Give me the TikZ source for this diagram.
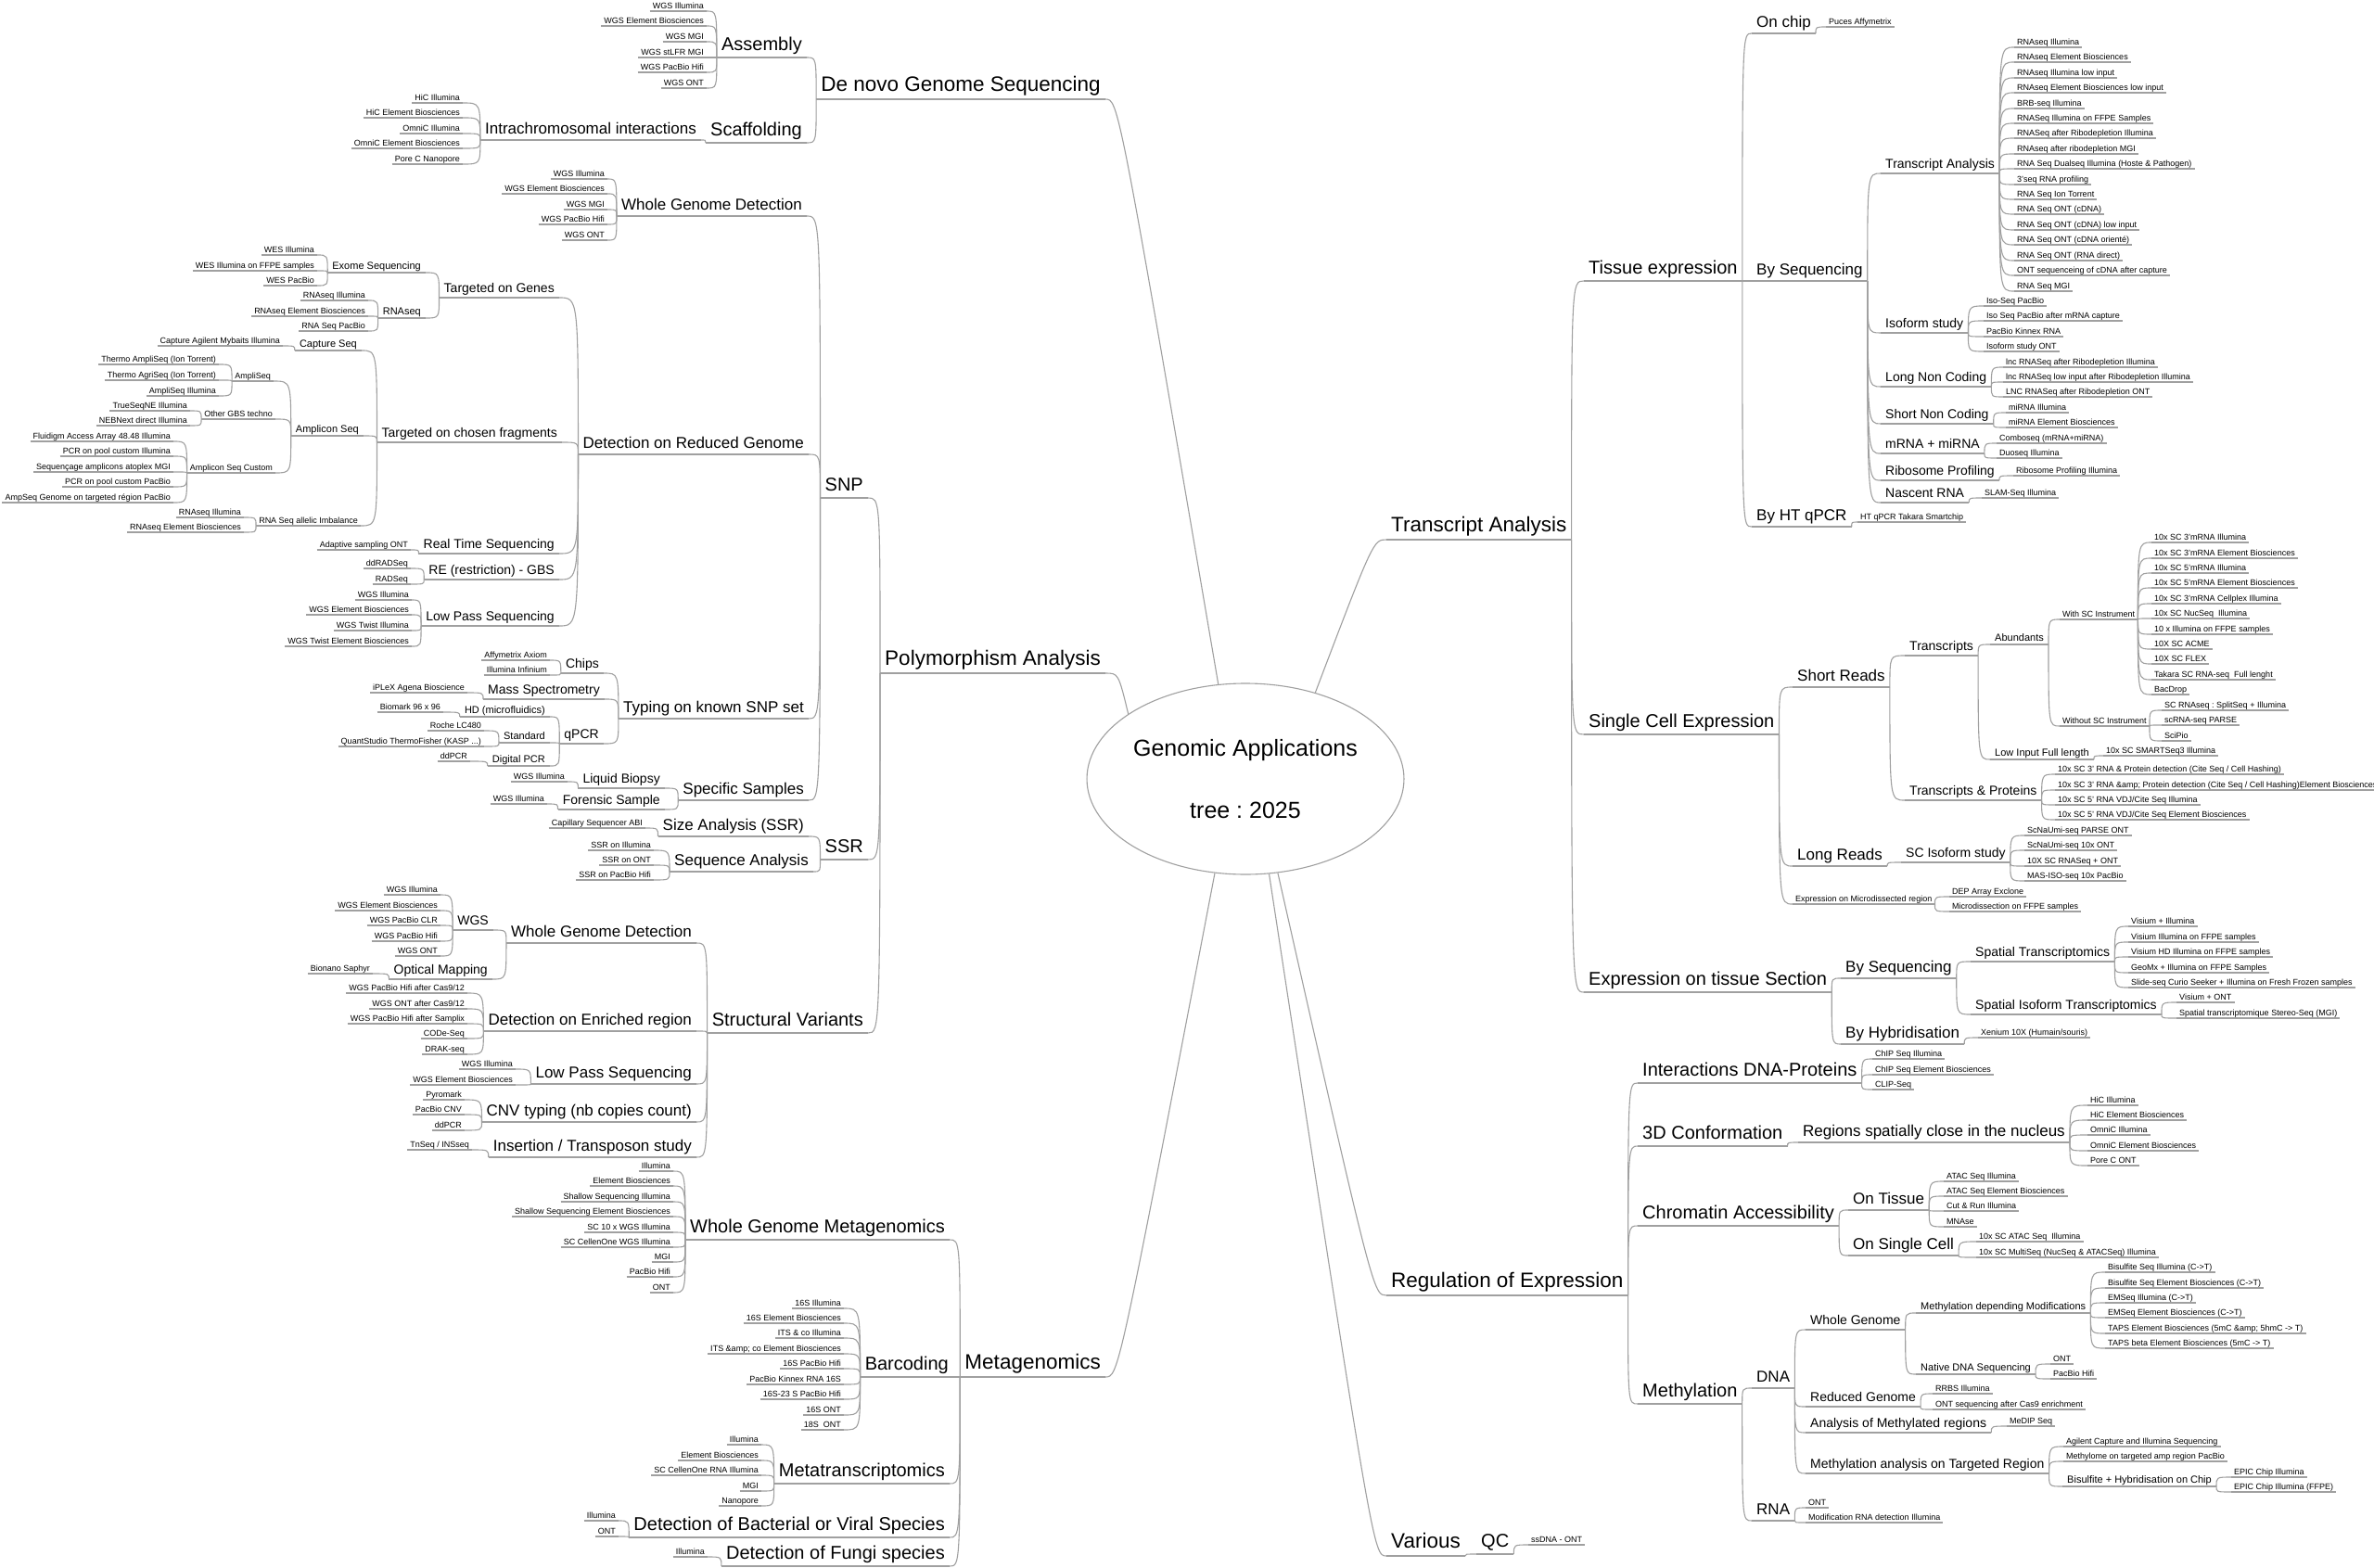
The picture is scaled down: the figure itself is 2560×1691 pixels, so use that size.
\documentclass[tikz,border=0pt]{standalone}
\usepackage{fontspec}
\setmainfont{Liberation Sans}
\usetikzlibrary{shapes.geometric,calc}
\frenchspacing
\definecolor{lc}{RGB}{160,160,160}
\newcounter{nc}
\tikzset{
 ln/.style={draw=lc, line width=1.1pt},
 nbase/.style={inner xsep=5pt, inner ysep=0pt, text=black},
 b1/.style={nbase, font=\fontsize{22.5}{27}\selectfont, text height=17pt, text depth=8pt},
 b2/.style={nbase, font=\fontsize{20}{24}\selectfont, text height=15pt, text depth=7pt},
 b3/.style={nbase, font=\fontsize{17}{20}\selectfont, text height=13pt, text depth=6pt},
 b4/.style={nbase, font=\fontsize{14}{17}\selectfont, text height=11pt, text depth=5pt},
 b5/.style={nbase, font=\fontsize{11}{13}\selectfont, text height=8.5pt, text depth=3.5pt},
 lf/.style={nbase, inner xsep=3pt, font=\fontsize{9}{11}\selectfont, text height=7pt, text depth=2.5pt},
 centre/.style={ellipse, draw=lc, line width=1.1pt, minimum width=278pt, minimum height=206pt, inner sep=0pt, align=center, font=\fontsize{25}{30}\selectfont},
}
\newcommand\Lb[6]{%
  \node[#3, anchor=south east] (#1) at (#4,#5) {#6};
  \draw[ln] (#1.south west) -- (#1.south east);
  \draw[ln] (#2.south west) .. controls (#2.south west |- #1.south east) .. (#1.south east);
}
\newcommand\Rb[6]{%
  \node[#3, anchor=south west] (#1) at (#4,#5) {#6};
  \draw[ln] (#1.south west) -- (#1.south east);
  \draw[ln] (#2.south east) .. controls (#2.south east |- #1.south west) .. (#1.south west);
}
\newcommand\Lf[4]{\stepcounter{nc}\edef\nn{n\arabic{nc}}\Lb{\nn}{#1}{lf}{#2}{#3}{#4}}
\newcommand\Rf[4]{\stepcounter{nc}\edef\nn{n\arabic{nc}}\Rb{\nn}{#1}{lf}{#2}{#3}{#4}}
\newcommand\Tl[5]{%
  \node[b1, anchor=south east] (#1) at (#3,#4) {#5};
  \draw[ln] (#1.south west) -- (#1.south east);
  \draw[ln] (c.#2) .. controls ($(#1.south east)+(14,0)$) .. (#1.south east);
}
\newcommand\Tr[5]{%
  \node[b1, anchor=south west] (#1) at (#3,#4) {#5};
  \draw[ln] (#1.south west) -- (#1.south east);
  \draw[ln] (c.#2) .. controls ($(#1.south west)+(-14,0)$) .. (#1.south west);
}
\begin{document}
\begin{tikzpicture}[x=1pt,y=-1pt]
\path[fill=white] (0,0) rectangle (2560,1691);
\useasboundingbox (0,0) rectangle (2560,1691);
\node[centre] (c) at (1343,840) {Genomic Applications\\[37pt]tree : 2025};

% ---------------- De novo
\Tl{dn}{106}{1192}{107}{De novo Genome Sequencing}
\Lb{as}{dn}{b2}{870}{62}{Assembly}
\Lf{as}{762}{12}{WGS Illumina}
\Lf{as}{762}{28}{WGS Element Biosciences}
\Lf{as}{762}{45}{WGS MGI}
\Lf{as}{762}{62}{WGS stLFR MGI}
\Lf{as}{762}{78}{WGS PacBio Hifi}
\Lf{as}{762}{95}{WGS ONT}
\Lb{sc}{dn}{b2}{870}{154}{Scaffolding}
\Lb{ic}{sc}{b3}{756}{151}{Intrachromosomal interactions}
\Lf{ic}{499}{111}{HiC Illumina}
\Lf{ic}{499}{127}{HiC Element Biosciences}
\Lf{ic}{499}{144}{OmniC Illumina}
\Lf{ic}{499}{160}{OmniC Element Biosciences}
\Lf{ic}{499}{177}{Pore C Nanopore}

% ---------------- Polymorphism
\Tl{pa}{151}{1192}{726}{Polymorphism Analysis}
\Lb{snp}{pa}{b2}{936}{537}{SNP}
\Lb{wgd}{snp}{b3}{870}{233}{Whole Genome Detection}
\Lf{wgd}{655}{193}{WGS Illumina}
\Lf{wgd}{655}{209}{WGS Element Biosciences}
\Lf{wgd}{655}{226}{WGS MGI}
\Lf{wgd}{655}{242}{WGS PacBio Hifi}
\Lf{wgd}{655}{259}{WGS ONT}
\Lb{drg}{snp}{b3}{872}{490}{Detection on Reduced Genome}
\Lb{tog}{drg}{b4}{603}{321}{Targeted on Genes}
\Lb{exo}{tog}{b5}{459}{294}{Exome Sequencing}
\Lf{exo}{342}{275}{WES Illumina}
\Lf{exo}{342}{292}{WES Illumina on FFPE samples}
\Lf{exo}{342}{308}{WES PacBio}
\Lb{rnas}{tog}{b5}{459}{343}{RNAseq}
\Lf{rnas}{397}{324}{RNAseq Illumina}
\Lf{rnas}{397}{341}{RNAseq Element Biosciences}
\Lf{rnas}{397}{357}{RNA Seq PacBio}
\Lb{tcf}{drg}{b4}{606}{477}{Targeted on chosen fragments}
\Lb{cap}{tcf}{b5}{390}{378}{Capture Seq}
\Lf{cap}{305}{373}{Capture Agilent Mybaits Illumina}
\Lb{amp}{tcf}{b5}{392}{470}{Amplicon Seq}
\Lb{ampl}{amp}{lf}{295}{411}{AmpliSeq}
\Lf{ampl}{236}{393}{Thermo AmpliSeq (Ion Torrent)}
\Lf{ampl}{236}{410}{Thermo AgriSeq (Ion Torrent)}
\Lf{ampl}{236}{427}{AmpliSeq Illumina}
\Lb{ogbs}{amp}{lf}{297}{452}{Other GBS techno}
\Lf{ogbs}{205}{443}{TrueSeqNE Illumina}
\Lf{ogbs}{205}{459}{NEBNext direct Illumina}
\Lb{ampc}{amp}{lf}{297}{510}{Amplicon Seq Custom}
\Lf{ampc}{187}{476}{Fluidigm Access Array 48.48 Illumina}
\Lf{ampc}{187}{492}{PCR on pool custom Illumina}
\Lf{ampc}{187}{509}{Sequençage amplicons atoplex MGI}
\Lf{ampc}{187}{525}{PCR on pool custom PacBio}
\Lf{ampc}{187}{542}{AmpSeq Genome on targeted région PacBio}
\Lb{rsai}{tcf}{lf}{389}{567}{RNA Seq allelic Imbalance}
\Lf{rsai}{263}{558}{RNAseq Illumina}
\Lf{rsai}{263}{574}{RNAseq Element Biosciences}
\Lb{rts}{drg}{b4}{603}{597}{Real Time Sequencing}
\Lf{rts}{443}{593}{Adaptive sampling ONT}
\Lb{reg}{drg}{b4}{603}{625}{RE (restriction) - GBS}
\Lf{reg}{443}{613}{ddRADSeq}
\Lf{reg}{443}{630}{RADSeq}
\Lb{lps}{drg}{b4}{603}{675}{Low Pass Sequencing}
\Lf{lps}{444}{647}{WGS Illumina}
\Lf{lps}{444}{663}{WGS Element Biosciences}
\Lf{lps}{444}{680}{WGS Twist Illumina}
\Lf{lps}{444}{697}{WGS Twist Element Biosciences}
\Lb{tks}{snp}{b3}{872}{775}{Typing on known SNP set}
\Lb{chp}{tks}{b4}{651}{726}{Chips}
\Lf{chp}{593}{712}{Affymetrix Axiom}
\Lf{chp}{593}{728}{Illumina Infinium}
\Lb{ms}{tks}{b4}{652}{754}{Mass Spectrometry}
\Lf{ms}{504}{747}{iPLeX Agena Bioscience}
\Lb{qpcr}{tks}{b4}{651}{802}{qPCR}
\Lb{hd}{qpcr}{b5}{593}{773}{HD (microfluidics)}
\Lf{hd}{478}{768}{Biomark 96 x 96}
\Lb{std}{qpcr}{b5}{593}{801}{Standard}
\Lf{std}{522}{788}{Roche LC480}
\Lf{std}{522}{805}{QuantStudio ThermoFisher (KASP ...)}
\Lb{dpcr}{qpcr}{b5}{593}{826}{Digital PCR}
\Lf{dpcr}{507}{821}{ddPCR}
\Lb{ss}{snp}{b3}{872}{863}{Specific Samples}
\Lb{lb}{ss}{b4}{717}{850}{Liquid Biopsy}
\Lf{lb}{612}{843}{WGS Illumina}
\Lb{fs}{ss}{b4}{717}{873}{Forensic Sample}
\Lf{fs}{590}{867}{WGS Illumina}
\Lb{ssr}{pa}{b2}{936}{927}{SSR}
\Lb{sa}{ssr}{b3}{872}{902}{Size Analysis (SSR)}
\Lf{sa}{696}{893}{Capillary Sequencer ABI}
\Lb{seqa}{ssr}{b3}{877}{940}{Sequence Analysis}
\Lf{seqa}{705}{917}{SSR on Illumina}
\Lf{seqa}{705}{933}{SSR on ONT}
\Lf{seqa}{705}{949}{SSR on PacBio Hifi}
\Lb{sv}{pa}{b2}{936}{1114}{Structural Variants}
\Lb{wgd2}{sv}{b3}{751}{1017}{Whole Genome Detection}
\Lb{wgs}{wgd2}{b4}{532}{1003}{WGS}
\Lf{wgs}{475}{965}{WGS Illumina}
\Lf{wgs}{475}{982}{WGS Element Biosciences}
\Lf{wgs}{475}{998}{WGS PacBio CLR}
\Lf{wgs}{475}{1015}{WGS PacBio Hifi}
\Lf{wgs}{475}{1031}{WGS ONT}
\Lb{om}{wgd2}{b4}{531}{1056}{Optical Mapping}
\Lf{om}{402}{1050}{Bionano Saphyr}
\Lb{der}{sv}{b3}{751}{1112}{Detection on Enriched region}
\Lf{der}{504}{1071}{WGS PacBio Hifi after Cas9/12}
\Lf{der}{504}{1088}{WGS ONT after Cas9/12}
\Lf{der}{504}{1104}{WGS PacBio Hifi after Samplix}
\Lf{der}{504}{1120}{CODe-Seq}
\Lf{der}{504}{1137}{DRAK-seq}
\Lb{lps2}{sv}{b3}{751}{1169}{Low Pass Sequencing}
\Lf{lps2}{556}{1153}{WGS Illumina}
\Lf{lps2}{556}{1170}{WGS Element Biosciences}
\Lb{cnv}{sv}{b3}{751}{1210}{CNV typing (nb copies count)}
\Lf{cnv}{501}{1186}{Pyromark}
\Lf{cnv}{501}{1202}{PacBio CNV}
\Lf{cnv}{501}{1219}{ddPCR}
\Lb{ins}{sv}{b3}{751}{1248}{Insertion / Transposon study}
\Lf{ins}{509}{1240}{TnSeq / INSseq}

% ---------------- Metagenomics
\Tl{mg}{252}{1192}{1485}{Metagenomics}
\Lb{wgm}{mg}{b2}{1024}{1337}{Whole Genome Metagenomics}
\Lf{wgm}{726}{1263}{Illumina}
\Lf{wgm}{726}{1279}{Element Biosciences}
\Lf{wgm}{726}{1296}{Shallow Sequencing Illumina}
\Lf{wgm}{726}{1312}{Shallow Sequencing Element Biosciences}
\Lf{wgm}{726}{1329}{SC 10 x WGS Illumina}
\Lf{wgm}{726}{1345}{SC CellenOne WGS Illumina}
\Lf{wgm}{726}{1361}{MGI}
\Lf{wgm}{726}{1377}{PacBio Hifi}
\Lf{wgm}{726}{1394}{ONT}
\Lb{bc}{mg}{b2}{1028}{1485}{Barcoding}
\Lf{bc}{910}{1411}{16S Illumina}
\Lf{bc}{910}{1427}{16S Element Biosciences}
\Lf{bc}{910}{1443}{ITS \& co Illumina}
\Lf{bc}{910}{1460}{ITS \&amp; co Element Biosciences}
\Lf{bc}{910}{1476}{16S PacBio Hifi}
\Lf{bc}{910}{1493}{PacBio Kinnex RNA 16S}
\Lf{bc}{910}{1509}{16S-23 S PacBio Hifi}
\Lf{bc}{910}{1526}{16S ONT}
\Lf{bc}{910}{1542}{18S\ \ ONT}
\Lb{mt}{mg}{b2}{1024}{1600}{Metatranscriptomics}
\Lf{mt}{821}{1558}{Illumina}
\Lf{mt}{821}{1575}{Element Biosciences}
\Lf{mt}{821}{1591}{SC CellenOne RNA Illumina}
\Lf{mt}{821}{1608}{MGI}
\Lf{mt}{821}{1624}{Nanopore}
\Lb{dbv}{mg}{b2}{1024}{1658}{Detection of Bacterial or Viral Species}
\Lf{dbv}{667}{1640}{Illumina}
\Lf{dbv}{667}{1657}{ONT}
\Lb{dfs}{mg}{b2}{1024}{1689}{Detection of Fungi species}
\Lf{dfs}{763}{1679}{Illumina}

% ---------------- Transcript Analysis
\Tr{ta}{51}{1495}{582}{Transcript Analysis}
\Rb{te}{ta}{b2}{1708}{303}{Tissue expression}
\Rb{oc}{te}{b3}{1889}{36}{On chip}
\Rf{oc}{1969}{29}{Puces Affymetrix}
\Rb{bs}{te}{b3}{1889}{303}{By Sequencing}
\Rb{ta2}{bs}{b4}{2028}{187}{Transcript Analysis}
\Rf{ta2}{2172}{51}{RNAseq Illumina}
\Rf{ta2}{2172}{67}{RNAseq Element Biosciences}
\Rf{ta2}{2172}{84}{RNAseq Illumina low input}
\Rf{ta2}{2172}{100}{RNAseq Element Biosciences low input}
\Rf{ta2}{2172}{117}{BRB-seq Illumina}
\Rf{ta2}{2172}{133}{RNASeq Illumina on FFPE Samples}
\Rf{ta2}{2172}{149}{RNASeq after Ribodepletion Illumina}
\Rf{ta2}{2172}{166}{RNAseq after ribodepletion MGI}
\Rf{ta2}{2172}{182}{RNA Seq Dualseq Illumina (Hoste \& Pathogen)}
\Rf{ta2}{2172}{199}{3'seq RNA profiling}
\Rf{ta2}{2172}{215}{RNA Seq Ion Torrent}
\Rf{ta2}{2172}{231}{RNA Seq ONT (cDNA)}
\Rf{ta2}{2172}{248}{RNA Seq ONT (cDNA) low input}
\Rf{ta2}{2172}{264}{RNA Seq ONT (cDNA orienté)}
\Rf{ta2}{2172}{281}{RNA Seq ONT (RNA direct)}
\Rf{ta2}{2172}{297}{ONT sequenceing of cDNA after capture}
\Rf{ta2}{2172}{314}{RNA Seq MGI}
\Rb{iso}{bs}{b4}{2028}{359}{Isoform study}
\Rf{iso}{2139}{330}{Iso-Seq PacBio}
\Rf{iso}{2139}{346}{Iso Seq PacBio after mRNA capture}
\Rf{iso}{2139}{363}{PacBio Kinnex RNA}
\Rf{iso}{2139}{379}{Isoform study ONT}
\Rb{lnc}{bs}{b4}{2028}{417}{Long Non Coding}
\Rf{lnc}{2160}{396}{lnc RNASeq after Ribodepletion Illumina}
\Rf{lnc}{2160}{412}{lnc RNASeq low input after Ribodepletion Illumina}
\Rf{lnc}{2160}{428}{LNC RNASeq after Ribodepletion ONT}
\Rb{snc}{bs}{b4}{2028}{457}{Short Non Coding}
\Rf{snc}{2163}{445}{miRNA Illumina}
\Rf{snc}{2163}{461}{miRNA Element Biosciences}
\Rb{mm}{bs}{b4}{2028}{489}{mRNA + miRNA}
\Rf{mm}{2153}{478}{Comboseq (mRNA+miRNA)}
\Rf{mm}{2153}{494}{Duoseq Illumina}
\Rb{rp}{bs}{b4}{2028}{518}{Ribosome Profiling}
\Rf{rp}{2171}{513}{Ribosome Profiling Illumina}
\Rb{nr}{bs}{b4}{2028}{542}{Nascent RNA}
\Rf{nr}{2137}{537}{SLAM-Seq Illumina}
\Rb{htq}{te}{b3}{1889}{568}{By HT qPCR}
\Rf{htq}{2003}{563}{HT qPCR Takara Smartchip}

\Rb{sce}{ta}{b2}{1708}{792}{Single Cell Expression}
\Rb{sr}{sce}{b3}{1933}{741}{Short Reads}
\Rb{tr}{sr}{b4}{2054}{707}{Transcripts}
\Rb{ab}{tr}{b5}{2146}{695}{Abundants}
\Rb{wsc}{ab}{lf}{2221}{668}{With SC Instrument}
\Rf{wsc}{2320}{585}{10x SC 3'mRNA Illumina}
\Rf{wsc}{2320}{602}{10x SC 3'mRNA Element Biosciences}
\Rf{wsc}{2320}{618}{10x SC 5'mRNA Illumina}
\Rf{wsc}{2320}{634}{10x SC 5'mRNA Element Biosciences}
\Rf{wsc}{2320}{651}{10x SC 3'mRNA Cellplex Illumina}
\Rf{wsc}{2320}{667}{10x SC NucSeq\ \ Illumina}
\Rf{wsc}{2320}{684}{10 x Illumina on FFPE samples}
\Rf{wsc}{2320}{700}{10X SC ACME}
\Rf{wsc}{2320}{716}{10X SC FLEX}
\Rf{wsc}{2320}{733}{Takara SC RNA-seq\ \ Full lenght}
\Rf{wsc}{2320}{749}{BacDrop}
\Rb{wosc}{ab}{lf}{2221}{783}{Without SC Instrument}
\Rf{wosc}{2331}{766}{SC RNAseq : SplitSeq + Illumina}
\Rf{wosc}{2331}{782}{scRNA-seq PARSE}
\Rf{wosc}{2331}{799}{SciPio}
\Rb{lif}{tr}{b5}{2146}{819}{Low Input Full length}
\Rf{lif}{2268}{815}{10x SC SMARTSeq3 Illumina}
\Rb{tp}{sr}{b4}{2054}{863}{Transcripts \& Proteins}
\Rf{tp}{2216}{835}{10x SC 3' RNA \& Protein detection (Cite Seq / Cell Hashing)}
\Rf{tp}{2216}{852}{10x SC 3' RNA \&amp; Protein detection (Cite Seq / Cell Hashing)Element Biosciences}
\Rf{tp}{2216}{868}{10x SC 5' RNA VDJ/Cite Seq Illumina}
\Rf{tp}{2216}{884}{10x SC 5' RNA VDJ/Cite Seq Element Biosciences}
\Rb{lr}{sce}{b3}{1933}{934}{Long Reads}
\Rb{sci}{lr}{b4}{2050}{930}{SC Isoform study}
\Rf{sci}{2183}{901}{ScNaUmi-seq PARSE ONT}
\Rf{sci}{2183}{917}{ScNaUmi-seq 10x ONT}
\Rf{sci}{2183}{934}{10X SC RNASeq + ONT}
\Rf{sci}{2183}{950}{MAS-ISO-seq 10x PacBio}
\Rb{emr}{sce}{lf}{1933}{975}{Expression on Microdissected region}
\Rf{emr}{2102}{967}{DEP Array Exclone}
\Rf{emr}{2102}{983}{Microdissection on FFPE samples}

\Rb{ets}{ta}{b2}{1708}{1070}{Expression on tissue Section}
\Rb{bs2}{ets}{b3}{1985}{1055}{By Sequencing}
\Rb{st}{bs2}{b4}{2125}{1037}{Spatial Transcriptomics}
\Rf{st}{2295}{999}{Visium + Illumina}
\Rf{st}{2295}{1016}{Visium Illumina on FFPE samples}
\Rf{st}{2295}{1032}{Visium HD Illumina on FFPE samples}
\Rf{st}{2295}{1049}{GeoMx + Illumina on FFPE Samples}
\Rf{st}{2295}{1065}{Slide-seq Curio Seeker + Illumina on Fresh Frozen samples}
\Rb{sit}{bs2}{b4}{2125}{1094}{Spatial Isoform Transcriptomics}
\Rf{sit}{2347}{1081}{Visium + ONT}
\Rf{sit}{2347}{1098}{Spatial transcriptomique Stereo-Seq (MGI)}
\Rb{bh}{ets}{b3}{1985}{1126}{By Hybridisation}
\Rf{bh}{2133}{1119}{Xenium 10X (Humain/souris)}

% ---------------- Regulation
\Tr{re}{289}{1495}{1397}{Regulation of Expression}
\Rb{idp}{re}{b2}{1766}{1168}{Interactions DNA-Proteins}
\Rf{idp}{2019}{1142}{ChIP Seq Illumina}
\Rf{idp}{2019}{1159}{ChIP Seq Element Biosciences}
\Rf{idp}{2019}{1175}{CLIP-Seq}
\Rb{c3d}{re}{b2}{1766}{1236}{3D Conformation}
\Rb{rsc}{c3d}{b3}{1939}{1232}{Regions spatially close in the nucleus}
\Rf{rsc}{2251}{1192}{HiC Illumina}
\Rf{rsc}{2251}{1208}{HiC Element Biosciences}
\Rf{rsc}{2251}{1224}{OmniC Illumina}
\Rf{rsc}{2251}{1241}{OmniC Element Biosciences}
\Rf{rsc}{2251}{1257}{Pore C ONT}
\Rb{ca}{re}{b2}{1766}{1322}{Chromatin Accessibility}
\Rb{ot}{ca}{b3}{1993}{1305}{On Tissue}
\Rf{ot}{2096}{1274}{ATAC Seq Illumina}
\Rf{ot}{2096}{1290}{ATAC Seq Element Biosciences}
\Rf{ot}{2096}{1306}{Cut \& Run Illumina}
\Rf{ot}{2096}{1323}{MNAse}
\Rb{osc}{ca}{b3}{1993}{1354}{On Single Cell}
\Rf{osc}{2131}{1339}{10x SC ATAC Seq\ \ Illumina}
\Rf{osc}{2131}{1356}{10x SC MultiSeq (NucSeq \& ATACSeq) Illumina}
\Rb{me}{re}{b2}{1766}{1514}{Methylation}
\Rb{dna}{me}{b3}{1889}{1497}{DNA}
\Rb{wg}{dna}{b4}{1947}{1434}{Whole Genome}
\Rb{mdm}{wg}{b5}{2066}{1416}{Methylation depending Modifications}
\Rf{mdm}{2270}{1372}{Bisulfite Seq Illumina (C->T)}
\Rf{mdm}{2270}{1389}{Bisulfite Seq Element Biosciences (C->T)}
\Rf{mdm}{2270}{1405}{EMSeq Illumina (C->T)}
\Rf{mdm}{2270}{1421}{EMSeq Element Biosciences (C->T)}
\Rf{mdm}{2270}{1438}{TAPS Element Biosciences (5mC \&amp; 5hmC -> T)}
\Rf{mdm}{2270}{1454}{TAPS beta Element Biosciences (5mC -> T)}
\Rb{nds}{wg}{b5}{2066}{1482}{Native DNA Sequencing}
\Rf{nds}{2211}{1471}{ONT}
\Rf{nds}{2211}{1487}{PacBio Hifi}
\Rb{rg}{dna}{b4}{1947}{1517}{Reduced Genome}
\Rf{rg}{2084}{1503}{RRBS Illumina}
\Rf{rg}{2084}{1520}{ONT sequencing after Cas9 enrichment}
\Rb{amr}{dna}{b4}{1947}{1545}{Analysis of Methylated regions}
\Rf{amr}{2164}{1538}{MeDIP Seq}
\Rb{mat}{dna}{b4}{1947}{1589}{Methylation analysis on Targeted Region}
\Rf{mat}{2225}{1560}{Agilent Capture and Illumina Sequencing}
\Rf{mat}{2225}{1576}{Methylome on targeted amp region PacBio}
\Rb{bhc}{mat}{b5}{2224}{1603}{Bisulfite + Hybridisation on Chip}
\Rf{bhc}{2406}{1593}{EPIC Chip Illumina}
\Rf{bhc}{2406}{1609}{EPIC Chip Illumina (FFPE)}
\Rb{rna}{me}{b3}{1889}{1640}{RNA}
\Rf{rna}{1947}{1626}{ONT}
\Rf{rna}{1947}{1642}{Modification RNA detection Illumina}

% ---------------- Various
\Tr{va}{284}{1495}{1678}{Various}
\Rb{qc}{va}{b2}{1592}{1676}{QC}
\Rf{qc}{1648}{1666}{ssDNA - ONT}
\end{tikzpicture}
\end{document}
